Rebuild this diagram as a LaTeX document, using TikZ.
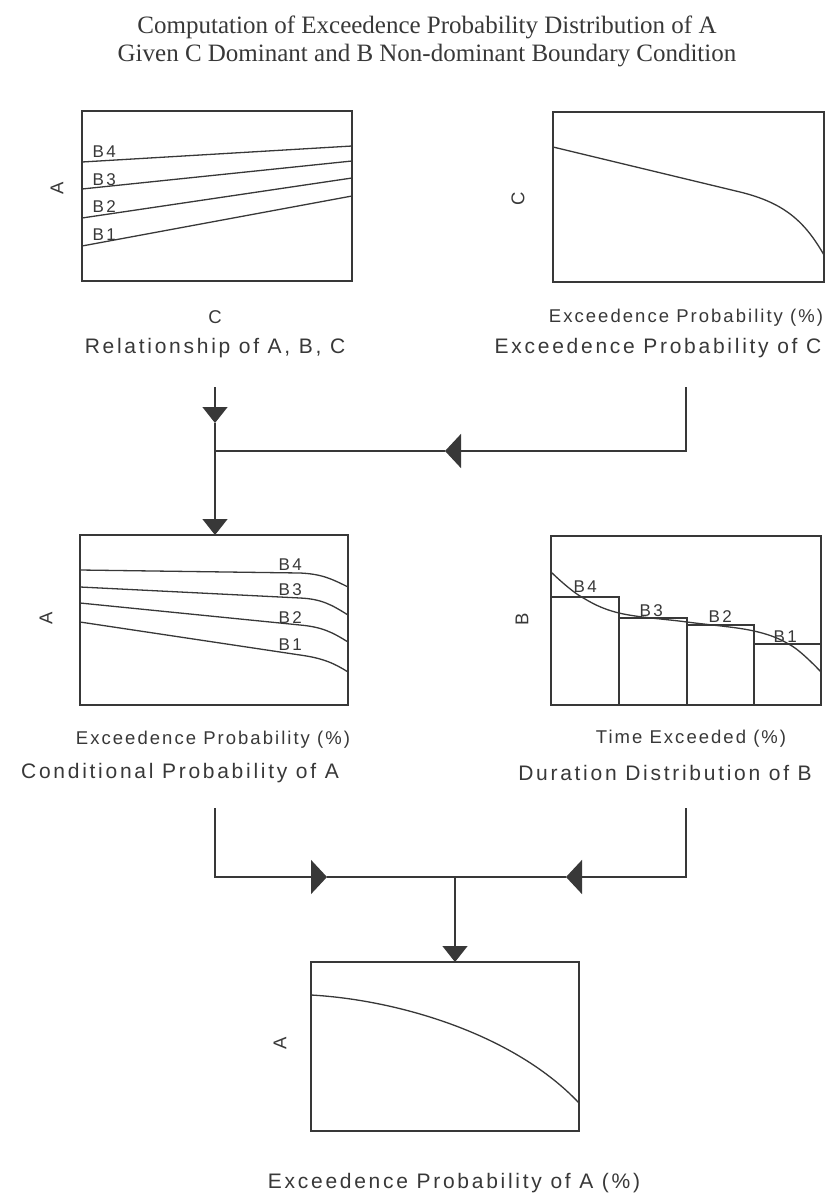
\documentclass[tikz,border=0pt]{standalone}
\usepackage{fontspec}
\setmainfont{Liberation Serif}
\newfontfamily\capf[LetterSpace=13]{Liberation Sans}
\newfontfamily\axf[LetterSpace=11]{Liberation Sans}
\newfontfamily\blf[LetterSpace=14]{Liberation Sans}
\usetikzlibrary{arrows.meta}
\definecolor{ink}{gray}{0.22}
\begin{document}
\begin{tikzpicture}[x=1pt,y=-1pt,line width=1.3pt,draw=ink,
  plotbox/.style={draw=ink,line width=1.4pt,inner sep=0pt,outer sep=0pt},
  curve/.style={draw=ink,line width=1.3pt},
  conn/.style={draw=ink,line width=1.3pt},
  varr/.style={conn,-{Triangle[width=25pt,length=16pt]}},
  harr/.style={conn,-{Triangle[width=34pt,length=16pt]}},
  ttl/.style={text=ink,font=\fontsize{25}{29}\selectfont,inner sep=0pt,anchor=base},
  captext/.style={text=ink,font=\capf\fontsize{21}{25}\selectfont,inner sep=0pt},
  axl/.style={text=ink,font=\axf\fontsize{18.5}{22}\selectfont,inner sep=0pt},
  rax/.style={axl,rotate=90},
  blab/.style={text=ink,font=\blf\fontsize{17}{20}\selectfont,inner sep=0pt,anchor=west}]
\useasboundingbox (0,0) rectangle (827,1197);
\fill[white] (0,0) rectangle (827,1197);

% title
\node[ttl] (t1) at (427,33) {Computation of Exceedence Probability Distribution of A};
\node[ttl] (t2) at (427,61) {Given C Dominant and B Non-dominant Boundary Condition};

% ---------- top-left: Relationship of A, B, C
\node[plotbox,minimum width=270pt,minimum height=170pt] (rel) at (217,196) {};
\draw[curve] (82,162) -- (352,146);
\draw[curve] (82,189) -- (352,161);
\draw[curve] (82,218) -- (352,178);
\draw[curve] (82,246) -- (352,196);
\node[blab] (rb4) at (92,152) {B4};
\node[blab] (rb3) at (92,180) {B3};
\node[blab] (rb2) at (92,207) {B2};
\node[blab] (rb1) at (92,235) {B1};
\node[rax] (relA) at (57,188) {A};
\node[axl] (relC) at (215,317) {C};
\node[captext] (relcap) at (215,348) {Relationship of A, B, C};

% ---------- top-right: Exceedence Probability of C
\node[plotbox,minimum width=271pt,minimum height=170pt] (epc) at (688.5,197) {};
\draw[curve] (553,147) -- (740,192) .. controls (785,203) and (805,222) .. (824,255);
\node[rax] (epcC) at (518,199) {C};
\node[axl] (epcx) at (686,318) {Exceedence Probability (\%)};
\node[captext] (epccap) at (658,348) {Exceedence Probability of C};

% ---------- middle-left: Conditional Probability of A
\node[plotbox,minimum width=268pt,minimum height=170pt] (cpa) at (214,620) {};
\draw[curve] (80,570) -- (300,573) .. controls (322,574) and (332,579) .. (348,587);
\draw[curve] (80,587) -- (300,598) .. controls (322,599) and (332,605) .. (348,615);
\draw[curve] (80,603) -- (300,625) .. controls (322,627) and (332,632) .. (348,642);
\draw[curve] (80,622) -- (300,655) .. controls (322,658) and (334,663) .. (348,672);
\node[blab] (cb4) at (278,565) {B4};
\node[blab] (cb3) at (278,590) {B3};
\node[blab] (cb2) at (278,618) {B2};
\node[blab] (cb1) at (278,645) {B1};
\node[rax] (cpaA) at (46,618) {A};
\node[axl] (cpax) at (213,740) {Exceedence Probability (\%)};
\node[captext] (cpacap) at (180,773) {Conditional Probability of A};

% ---------- middle-right: Duration Distribution of B
\node[plotbox,minimum width=270pt,minimum height=169pt] (ddb) at (686,620.5) {};
\draw[curve] (551,597) rectangle (619,705);
\draw[curve] (619,618) rectangle (687,705);
\draw[curve] (687,625) rectangle (754,705);
\draw[curve] (754,644) rectangle (821,705);
\draw[curve] plot[smooth,tension=0.6] coordinates {(551,572) (580,596) (619,613) (687,622) (754,631) (792,646) (821,672)};
\node[blab] (db4) at (573,587) {B4};
\node[blab] (db3) at (639,611) {B3};
\node[blab] (db2) at (708,617) {B2};
\node[blab] (db1) at (773,637) {B1};
\node[rax] (ddbB) at (522,619) {B};
\node[axl] (ddbx) at (691,739) {Time Exceeded (\%)};
\node[captext] (ddbcap) at (665,773) {Duration Distribution of B};

% ---------- bottom: Exceedence Probability of A
\node[plotbox,minimum width=268pt,minimum height=169pt] (epa) at (445,1046.5) {};
\draw[curve] (311,995) .. controls (400,1000) and (515,1035) .. (579,1103);
\node[rax] (epaA) at (280,1043) {A};
\node[captext] (epacap) at (454,1183) {Exceedence Probability of A (\%)};

% ---------- connectors
\coordinate (a0) at (215,387);
\coordinate (a1) at (215,423);
\coordinate (j1) at (215,451);
\coordinate (c0) at (686,387);
\coordinate (c1) at (686,451);
\coordinate (c2) at (445,451);
\draw[varr] (a0) -- (a1);
\draw[varr] (a1) -- (a1 |- cpa.north);
\draw[harr] (c0) -- (c1) -- (c2);
\draw[conn] (c2) -- (j1);

\coordinate (l0) at (215,808);
\coordinate (l1) at (215,877);
\coordinate (l2) at (327,877);
\coordinate (r0) at (686,808);
\coordinate (r1) at (686,877);
\coordinate (r2) at (566,877);
\coordinate (m0) at (455,877);
\draw[harr] (l0) -- (l1) -- (l2);
\draw[conn] (l2) -- (m0);
\draw[harr] (r0) -- (r1) -- (r2);
\draw[conn] (r2) -- (m0);
\draw[varr] (m0) -- (m0 |- epa.north);
\end{tikzpicture}
\end{document}
